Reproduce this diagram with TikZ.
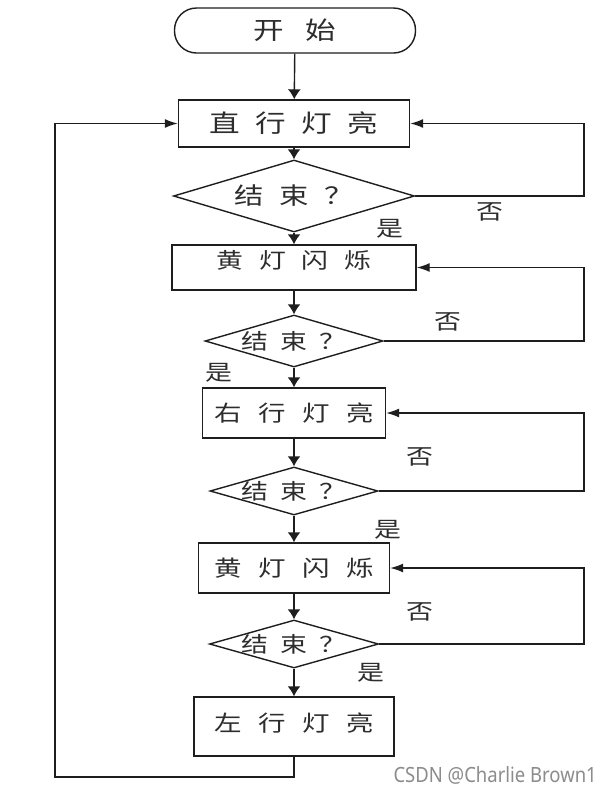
\documentclass[tikz,border=0pt]{standalone}
\usepackage{fontspec}
\usetikzlibrary{shapes.geometric,arrows.meta}
\newfontfamily\cjk[FakeStretch=1.25]{Noto Sans CJK SC}
\newfontfamily\wmfont[FakeStretch=0.88]{Noto Sans}
\newcommand{\hs}[1]{\hspace{#1pt}}
\newcommand{\fz}[1]{\fontsize{#1}{#1}\selectfont}
\definecolor{ink}{RGB}{30,30,30}
\definecolor{txt}{RGB}{45,45,45}
\definecolor{wm}{RGB}{140,140,140}
\begin{document}
\begin{tikzpicture}[x=1pt,y=-1pt,
  box/.style={draw=ink, line width=1.4pt, rectangle, inner sep=0pt, font=\cjk, text=txt},
  term/.style={draw=ink, line width=1.4pt, rectangle, rounded corners=22pt, inner sep=0pt, font=\cjk, text=txt},
  dia/.style={draw=ink, line width=1.4pt, diamond, inner sep=0pt, aspect=3.4, font=\cjk, text=txt},
  lbl/.style={font=\cjk\fz{21.5}, text=txt, inner sep=0pt},
  flow/.style={draw=ink, line width=1.4pt, -{Latex[length=10pt,width=13pt]}},
  back/.style={draw=ink, line width=1.4pt, line join=miter, -{Latex[length=13pt,width=9pt]}}]
\fill[white] (0,0) rectangle (610,788);
\useasboundingbox (0,0) rectangle (610,788);
\coordinate (rx) at (584,0);
\coordinate (lx) at (55,0);
\coordinate (by) at (0,777);

\node[term, minimum width=241pt, minimum height=45pt] (start) at (295,30.5) {\fz{24.5}开\hs{22}始};
\node[box, minimum width=231pt, minimum height=47pt] (b1) at (294,123.5) {\fz{24.5}直\hs{15.5}行\hs{15.5}灯\hs{15.5}亮};
\node[dia, minimum width=241pt, minimum height=72pt] (d1) at (294,196) {\makebox[0pt]{\fz{23.5}结\hs{15.5}束\hs{15.5}？}};
\node[box, minimum width=244pt, minimum height=45pt, text depth=16pt] (b2) at (294,267.5) {\fz{21.5}黄\hs{16}灯\hs{16}闪\hs{16}烁};
\node[dia, minimum width=178pt, minimum height=52pt] (d2) at (294,341) {\makebox[0pt]{\fz{21.5}结\hs{12}束\hs{12}？}};
\node[box, minimum width=183pt, minimum height=50pt] (b3) at (294,413) {\fz{22}右\hs{16.5}行\hs{16.5}灯\hs{16.5}亮};
\node[dia, minimum width=168pt, minimum height=48pt] (d3) at (294,491) {\makebox[0pt]{\fz{21.5}结\hs{12}束\hs{12}？}};
\node[box, minimum width=191pt, minimum height=50pt] (b4) at (294,568) {\fz{22}黄\hs{16.5}灯\hs{16.5}闪\hs{16.5}烁};
\node[dia, minimum width=169pt, minimum height=48pt] (d4) at (294,644) {\makebox[0pt]{\fz{21.5}结\hs{12}束\hs{12}？}};
\node[box, minimum width=200pt, minimum height=59pt, text depth=8pt] (b5) at (294,726.5) {\fz{22}左\hs{16.5}行\hs{16.5}灯\hs{16.5}亮};

\node[lbl] (n1) at (490,212) {否};
\node[lbl] (y1) at (390,229) {是};
\node[lbl] (n2) at (448,322) {否};
\node[lbl] (y2) at (219,373) {是};
\node[lbl] (n3) at (420,457) {否};
\node[lbl] (y3) at (388,530) {是};
\node[lbl] (n4) at (420,612) {否};
\node[lbl] (y4) at (371,673) {是};

\draw[flow] (start) -- (b1);
\draw[flow] (b1) -- (d1);
\draw[flow] (d1) -- (b2);
\draw[flow] (b2) -- (d2);
\draw[flow] (d2) -- (b3);
\draw[flow] (b3) -- (d3);
\draw[flow] (d3) -- (b4);
\draw[flow] (b4) -- (d4);
\draw[flow] (d4) -- (b5);

\draw[back] (d1.east) -- (d1.east -| rx) -- (b1.east -| rx) -- (b1.east);
\draw[back] (d2.east) -- (d2.east -| rx) -- (b2.east -| rx) -- (b2.east);
\draw[back] (d3.east) -- (d3.east -| rx) -- (b3.east -| rx) -- (b3.east);
\draw[back] (d4.east) -- (d4.east -| rx) -- (b4.east -| rx) -- (b4.east);
\draw[back] (b5.south) -- (b5.south |- by) -- (lx |- by) -- (lx |- b1.west) -- (b1.west);

\node[font=\wmfont\fz{21}, text=wm, anchor=base east, inner sep=0pt] (wmk) at (597,782) {CSDN @Charlie Brown1};
\end{tikzpicture}
\end{document}
